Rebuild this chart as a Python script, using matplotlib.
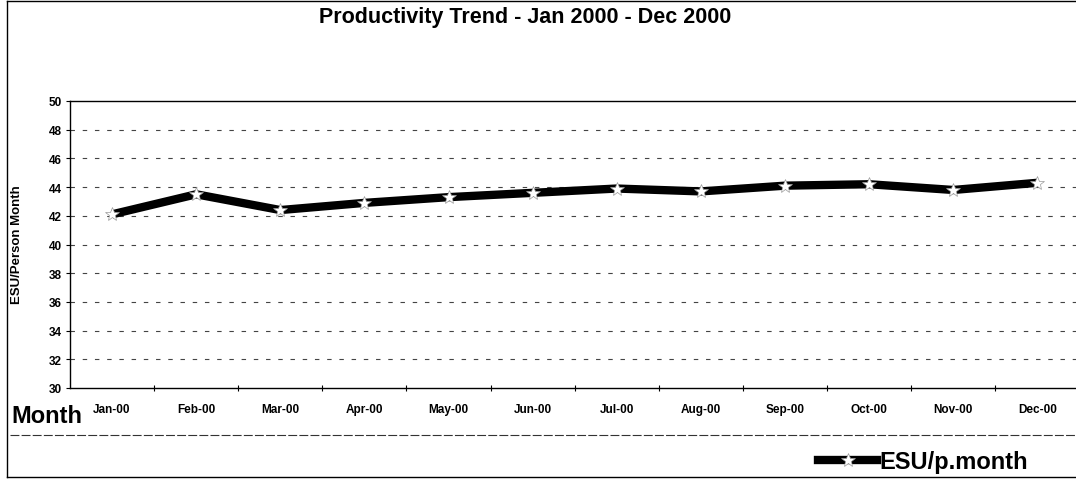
import matplotlib
matplotlib.use("Agg")
import matplotlib.pyplot as plt
from matplotlib.lines import Line2D

plt.rcParams['font.family'] = ['Liberation Sans', 'DejaVu Sans']
plt.rcParams['font.weight'] = 'bold'

months = ["Jan-00", "Feb-00", "Mar-00", "Apr-00", "May-00", "Jun-00",
          "Jul-00", "Aug-00", "Sep-00", "Oct-00", "Nov-00", "Dec-00"]
esu = [42.1, 43.5, 42.4, 42.9, 43.3, 43.6, 43.9, 43.7, 44.1, 44.2, 43.8, 44.3]
yticks = list(range(30, 51, 2))
title = "Productivity Trend - Jan 2000 - Dec 2000"
series_name = "ESU/p.month"

W, H = 1076, 481
fig = plt.figure(figsize=(W / 100, H / 100), dpi=100)

def fx(px):
    return px / W

def fy(py):
    return 1 - py / H

ax = fig.add_axes([fx(70), fy(389), fx(1076) - fx(70), fy(102) - fy(389)])
x = list(range(len(months)))
ax.plot(x, esu, color='black', lw=6, solid_capstyle='butt', zorder=3)
ax.plot(x, esu, ls='none', marker='*', ms=10, mfc='white', mec='#999999',
        mew=0.5, zorder=4)

ax.set_xlim(-0.5, 11.46)
ax.set_ylim(30, 50)
ax.set_yticks(yticks)
ax.set_yticklabels([str(v) for v in yticks], fontsize=8.5, fontweight='bold')
ax.set_xticks(x)
ax.set_xticklabels(months, fontsize=8.5, fontweight='bold')
ax.set_xticks([i + 0.5 for i in range(11)], minor=True)
ax.tick_params(axis='x', which='major', length=0, pad=11)
ax.tick_params(axis='x', which='minor', length=4, direction='inout', width=0.8)
ax.tick_params(axis='y', length=3, direction='out', width=0.8, pad=3)

for v in yticks[1:-1]:
    ax.axhline(v, color='#444444', lw=0.8, dashes=(4, 7), zorder=1)

for s in ['left', 'bottom', 'top']:
    ax.spines[s].set_linewidth(1.0)
    ax.spines[s].set_color('black')
ax.spines['right'].set_visible(False)

fig.text(fx(17), fy(245), "ESU/Person Month", rotation=90, ha='center',
         va='center', fontsize=9.5, fontweight='bold')

fig.text(fx(525), fy(18), title, ha='center', va='center', fontsize=15.5,
         fontweight='bold')
fig.text(fx(11), fy(423), "Month", ha='left', va='baseline', fontsize=17,
         fontweight='bold')

# chart border and separator
fig.add_artist(Line2D([fx(7), fx(7)], [fy(2), fy(478)], color='black', lw=1))
fig.add_artist(Line2D([fx(7), fx(1076)], [fy(2), fy(2)], color='black', lw=1))
fig.add_artist(Line2D([fx(7), fx(1076)], [fy(478), fy(478)], color='black', lw=1))
fig.add_artist(Line2D([fx(10), fx(1076)], [fy(436), fy(436)], color='#333333',
                      lw=0.8, dashes=(8, 2)))

handle = Line2D([0], [0], color='black', lw=6, marker='*', ms=10,
                mfc='white', mec='#999999', mew=0.5)
fig.legend([handle], [series_name], loc='center left',
           bbox_to_anchor=(fx(818), fy(463)), bbox_transform=fig.transFigure,
           frameon=False, prop={'size': 17, 'weight': 'bold'},
           handlelength=2.5, handletextpad=0.1, borderpad=0, borderaxespad=0)

fig.savefig("out.png", dpi=100)
